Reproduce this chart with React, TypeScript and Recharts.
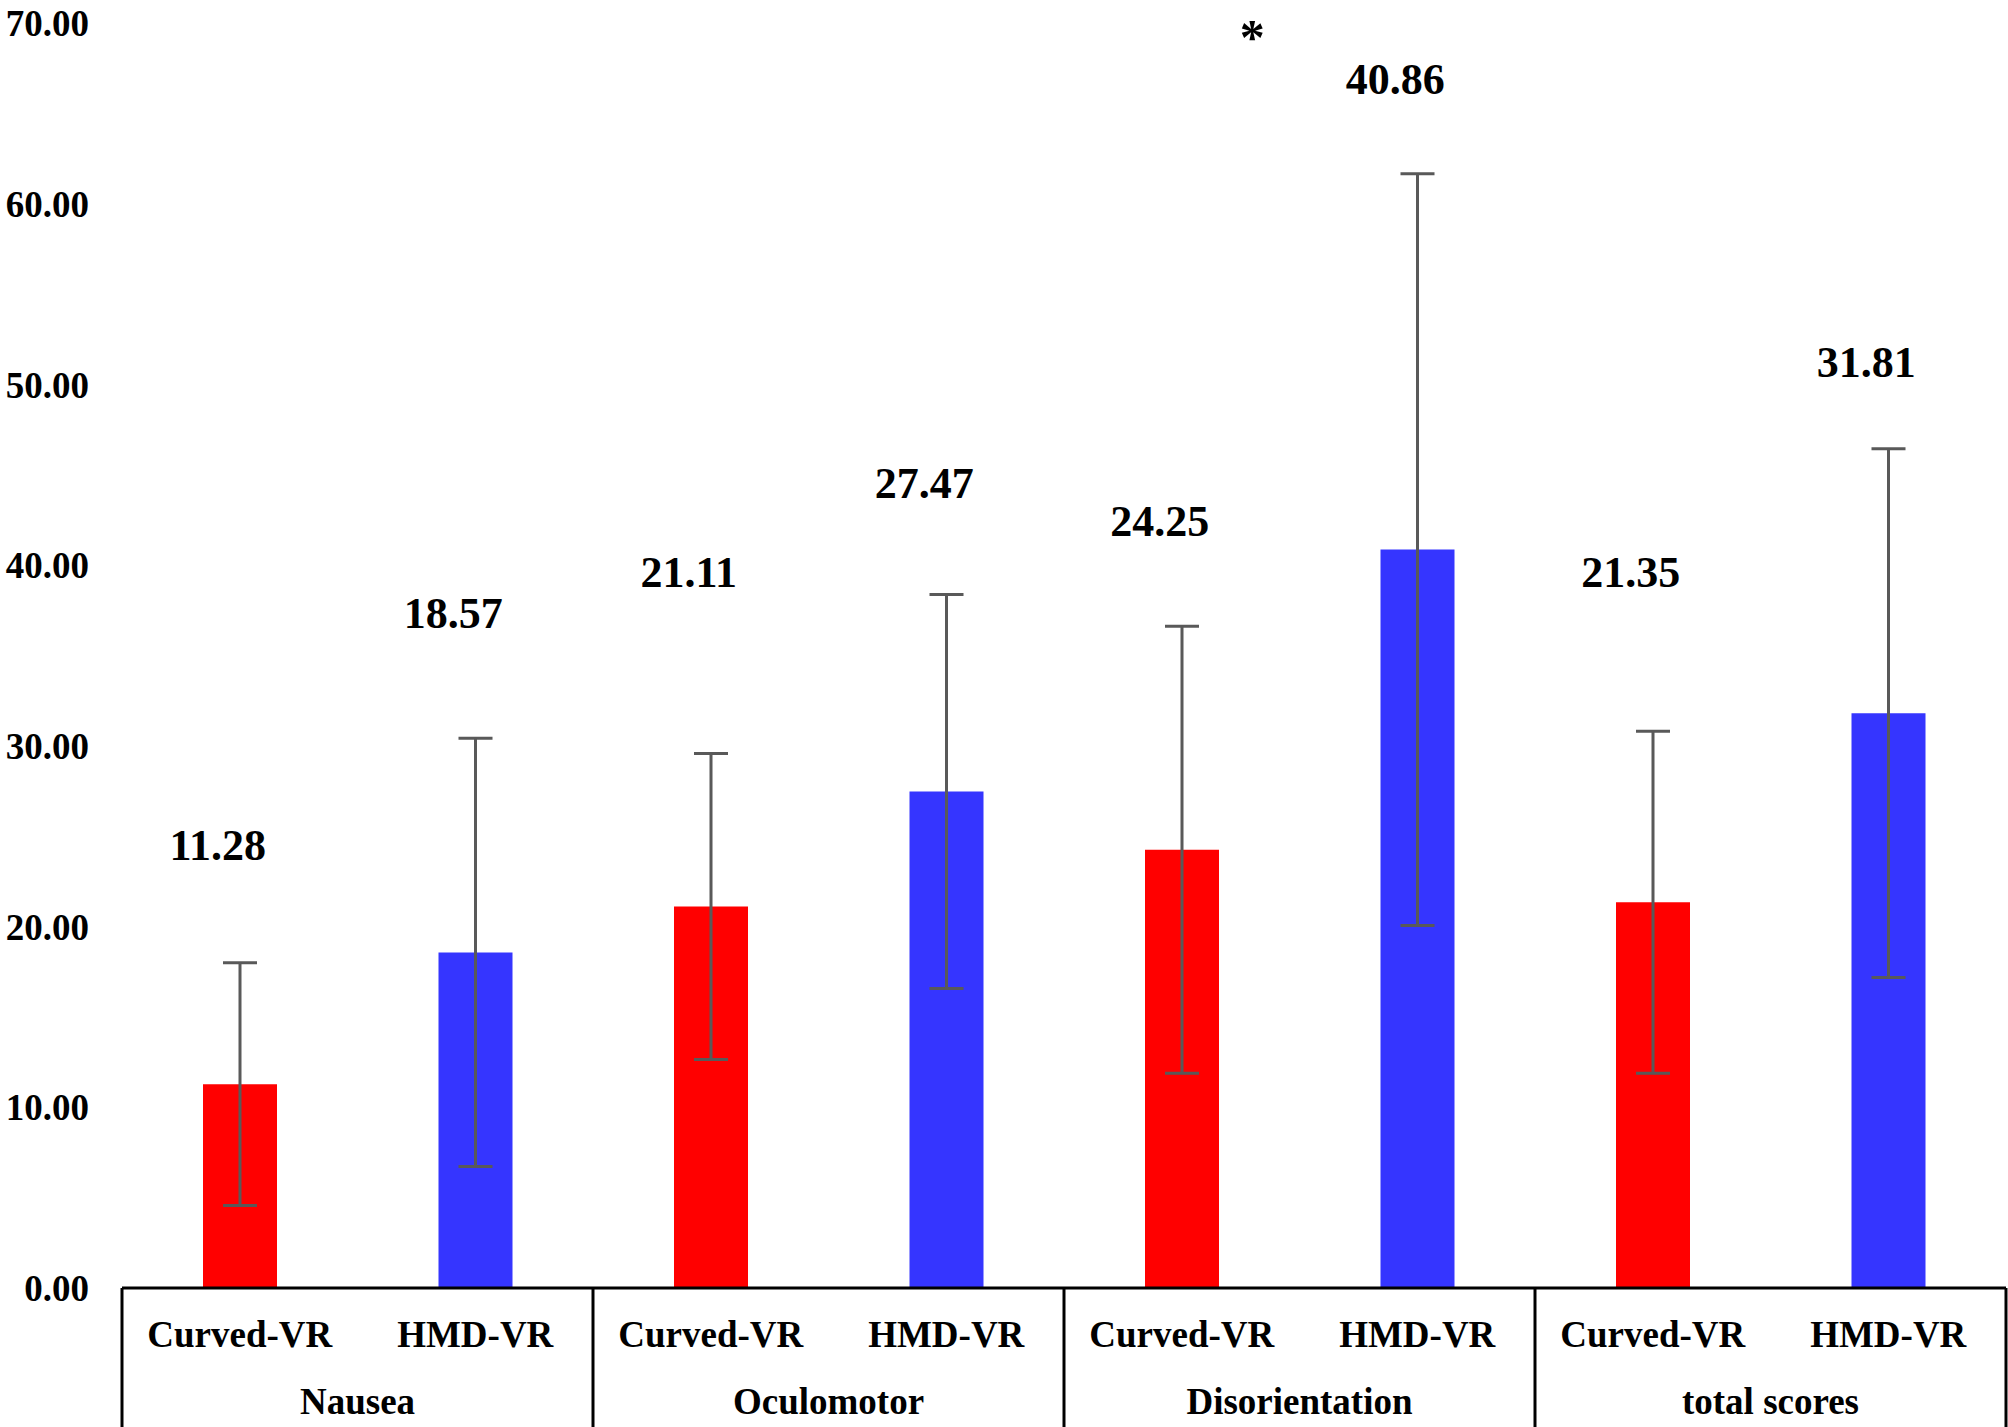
import React from "react";
import {
  ComposedChart,
  Bar,
  Cell,
  ErrorBar,
  Line,
  XAxis,
  YAxis,
} from "recharts";

const GROUPS = ["Nausea", "Oculomotor", "Disorientation", "total scores"];
const CONDITIONS = ["Curved-VR", "HMD-VR"];

// means and standard deviations, in group order, Curved-VR then HMD-VR
const MEANS = [11.28, 18.57, 21.11, 27.47, 24.25, 40.86, 21.35, 31.81];
const SDS = [6.72, 11.85, 8.47, 10.9, 12.37, 20.8, 9.46, 14.63];
// height (in axis units) where each value label sits
const LABEL_LEVELS = [24.5, 37.3, 39.6, 44.5, 42.4, 66.9, 39.6, 51.2];
const SIGNIFICANT = [false, false, false, false, false, true, false, false];
const Y_TICKS = [0, 10, 20, 30, 40, 50, 60, 70];

const COLORS = ["#FF0000", "#3535FF"];

const data = MEANS.map((mean, i) => ({
  key: `${GROUPS[Math.floor(i / 2)]}|${CONDITIONS[i % 2]}`,
  group: GROUPS[Math.floor(i / 2)],
  condition: CONDITIONS[i % 2],
  mean,
  sd: SDS[i],
  labelAt: LABEL_LEVELS[i],
}));

const WIDTH = 2008;
const HEIGHT = 1427;
const Y_AXIS_W = 122;
const MARGIN_RIGHT = 2;
const HALF_BAND = (WIDTH - Y_AXIS_W - MARGIN_RIGHT) / data.length / 2;
const FONT = "'Liberation Serif', 'Times New Roman', serif";

const CategoryTick = (props: any) => {
  const { x, y, payload } = props;
  const i = payload.index;
  const row = data[i];
  return (
    <g>
      <text
        x={x}
        y={y + 46}
        textAnchor="middle"
        dominantBaseline="central"
        fontFamily={FONT}
        fontWeight="bold"
        fontSize={37}
        fill="#000"
      >
        {row.condition}
      </text>
      {i % 2 === 0 && (
        <text
          x={x + HALF_BAND}
          y={y + 113}
          textAnchor="middle"
          dominantBaseline="central"
          fontFamily={FONT}
          fontWeight="bold"
          fontSize={37}
          fill="#000"
        >
          {row.group}
        </text>
      )}
      {i === 0 && (
        <line x1={x - HALF_BAND} x2={x - HALF_BAND} y1={y} y2={y + 139} stroke="#000" strokeWidth={3} />
      )}
      {i % 2 === 1 && (
        <line x1={x + HALF_BAND} x2={x + HALF_BAND} y1={y} y2={y + 139} stroke="#000" strokeWidth={3} />
      )}
    </g>
  );
};

const ValueLabel = (props: any) => {
  const { x, y, index } = props;
  return (
    <g>
      <text
        x={x - 22}
        y={y}
        textAnchor="middle"
        dominantBaseline="central"
        fontFamily={FONT}
        fontWeight="bold"
        fontSize={44}
        fill="#000"
      >
        {MEANS[index].toFixed(2)}
      </text>
      {SIGNIFICANT[index] && (
        <text
          x={x - 165}
          y={54}
          textAnchor="middle"
          fontFamily={FONT}
          fontWeight="bold"
          fontSize={50}
          fill="#000"
        >
          *
        </text>
      )}
    </g>
  );
};

export default function App() {
  return (
    <div style={{ position: "absolute", left: 0, top: 0, background: "#fff" }}>
      <ComposedChart
        width={WIDTH}
        height={HEIGHT}
        data={data}
        margin={{ top: 23, right: MARGIN_RIGHT, bottom: 0, left: 0 }}
        barCategoryGap={0}
      >
        <XAxis
          dataKey="key"
          height={139}
          interval={0}
          tickLine={false}
          tickSize={0}
          tickMargin={0}
          axisLine={{ stroke: "#000", strokeWidth: 3 }}
          tick={<CategoryTick />}
        />
        <YAxis
          width={Y_AXIS_W}
          domain={[0, 70]}
          ticks={Y_TICKS}
          axisLine={false}
          tickLine={false}
          tickSize={0}
          tickMargin={33}
          tickFormatter={(v: number) => v.toFixed(2)}
          tick={{ fill: "#000", fontSize: 37, fontWeight: "bold", fontFamily: FONT }}
        />
        <Bar dataKey="mean" barSize={74} isAnimationActive={false}>
          {data.map((d, i) => (
            <Cell key={d.key} fill={COLORS[i % 2]} />
          ))}
          <ErrorBar
            dataKey="sd"
            width={17}
            stroke="#595959"
            strokeWidth={3}
            isAnimationActive={false}
          />
        </Bar>
        <Line
          dataKey="labelAt"
          stroke="none"
          dot={false}
          activeDot={false}
          legendType="none"
          isAnimationActive={false}
          label={<ValueLabel />}
        />
      </ComposedChart>
    </div>
  );
}
